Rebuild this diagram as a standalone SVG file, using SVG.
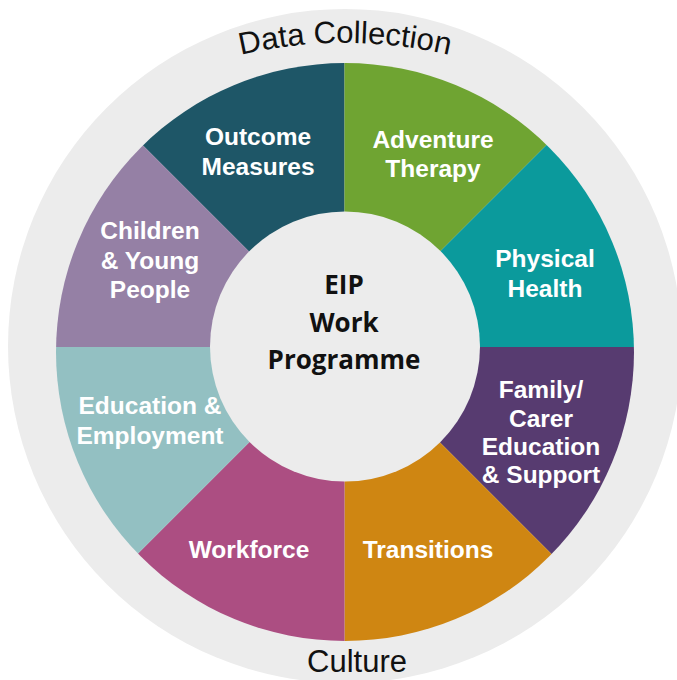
<svg xmlns="http://www.w3.org/2000/svg" xmlns:xlink="http://www.w3.org/1999/xlink" width="677" height="680" viewBox="0 0 677 680">
  <style>
    .lbl { font-family: "Liberation Sans", Arial, sans-serif; font-weight: bold; font-size: 24.5px; fill: #ffffff; text-anchor: middle; }
    .ctr { font-family: "Open Sans", "Liberation Sans", sans-serif; font-weight: bold; font-size: 26px; fill: #111111; text-anchor: middle; }
    .ring { font-family: "Liberation Sans", Arial, sans-serif; font-size: 31px; fill: #111111; text-anchor: middle; }
    .seg { clip-path: url(#outerClip); }
  </style>
  <defs>
    <clipPath id="outerClip">
      <circle cx="345" cy="352" r="289"/>
    </clipPath>
    <path id="topArc" d="M -55 275.8 A 460 460 0 0 1 745 275.8"/>
  </defs>
  <rect x="0" y="0" width="677" height="680" fill="#ffffff"/>
  <g id="outer-ring">
    <circle cx="345" cy="346" r="337" fill="#ececec"/>
    <text class="ring"><textPath xlink:href="#topArc" href="#topArc" startOffset="50%">Data Collection</textPath></text>
    <text class="ring" x="357" y="672" font-size="30">Culture</text>
  </g>
  <g id="connectors"></g>
  <g id="outcome-measures">
    <polygon class="seg" points="344.5,347 344.5,-153 -155.5,-153" fill="#1e5667"/>
    <text class="lbl" x="258" y="145">Outcome</text>
    <text class="lbl" x="258" y="175">Measures</text>
  </g>
  <g id="adventure-therapy">
    <polygon class="seg" points="344.5,347 844.5,-153 344.5,-153" fill="#6fa432"/>
    <text class="lbl" x="433" y="148">Adventure</text>
    <text class="lbl" x="433" y="177">Therapy</text>
  </g>
  <g id="physical-health">
    <polygon class="seg" points="344.5,347 844.5,347 844.5,-153" fill="#0b9a9c"/>
    <text class="lbl" x="545" y="267">Physical</text>
    <text class="lbl" x="545" y="297">Health</text>
  </g>
  <g id="family-carer">
    <polygon class="seg" points="344.5,347 844.5,847 844.5,347" fill="#573b70"/>
    <text class="lbl" x="541" y="398">Family/</text>
    <text class="lbl" x="541" y="427">Carer</text>
    <text class="lbl" x="541" y="455">Education</text>
    <text class="lbl" x="541" y="483">&amp; Support</text>
  </g>
  <g id="transitions">
    <polygon class="seg" points="344.5,347 344.5,847 844.5,847" fill="#cf8612"/>
    <text class="lbl" x="428" y="558">Transitions</text>
  </g>
  <g id="workforce">
    <polygon class="seg" points="344.5,347 -155.5,847 344.5,847" fill="#ac4e82"/>
    <text class="lbl" x="249" y="558">Workforce</text>
  </g>
  <g id="education-employment">
    <polygon class="seg" points="344.5,347 -155.5,347 -155.5,847" fill="#93c0c2"/>
    <text class="lbl" x="150" y="414">Education &amp;</text>
    <text class="lbl" x="150" y="444">Employment</text>
  </g>
  <g id="children-young-people">
    <polygon class="seg" points="344.5,347 -155.5,-153 -155.5,347" fill="#9580a5"/>
    <text class="lbl" x="150" y="239">Children</text>
    <text class="lbl" x="150" y="269">&amp; Young</text>
    <text class="lbl" x="150" y="298">People</text>
  </g>
  <g id="eip-work-programme">
    <circle cx="345" cy="346.5" r="135" fill="#ececec"/>
    <text class="ctr" x="344" y="294">EIP</text>
    <text class="ctr" x="344" y="332">Work</text>
    <text class="ctr" x="344" y="369">Programme</text>
  </g>
</svg>
